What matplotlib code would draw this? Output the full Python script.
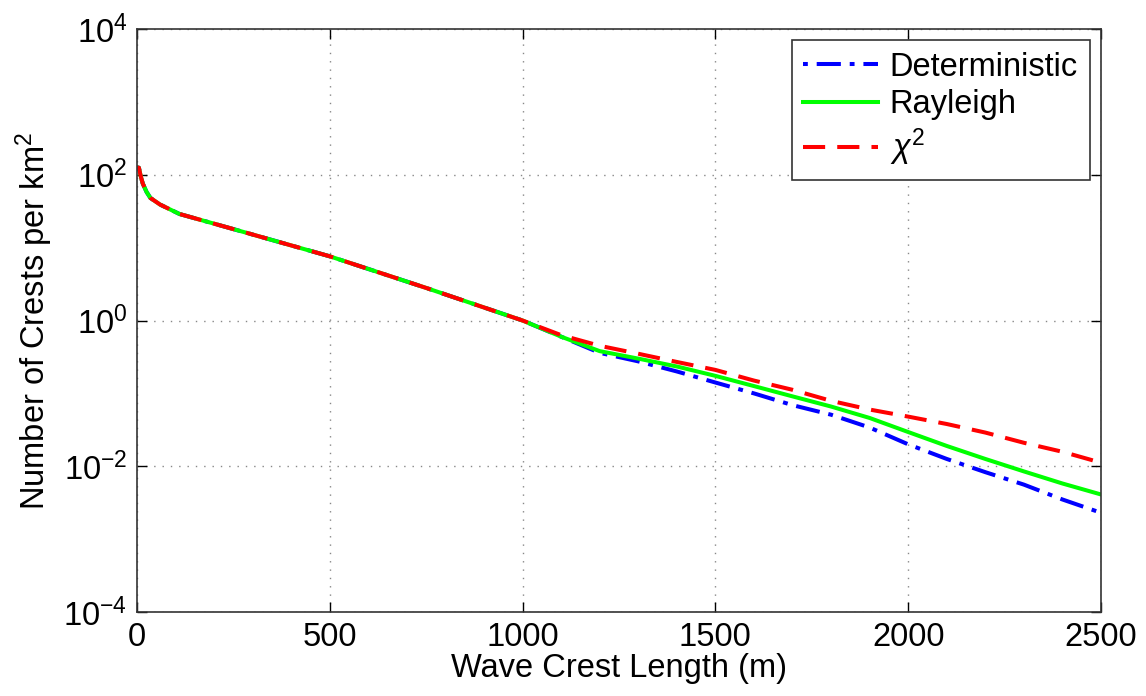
import matplotlib as mpl
mpl.use('Agg')
import matplotlib.pyplot as plt
import numpy as np

# common part of the three curves (m, crests per km^2)
x_common = [0, 5, 10, 15, 25, 35, 60, 110, 240, 500, 750, 1000]
y_common = [126, 125, 95, 76, 58, 48, 39, 29, 18.6, 7.6, 2.8, 1.0]

# tails where the curves split up
x_tail = [1100, 1200, 1300, 1400, 1500, 1600, 1700, 1800, 1900, 2000,
          2100, 2200, 2300, 2400, 2500]
det_tail = [0.60, 0.36, 0.275, 0.20, 0.141, 0.10, 0.069, 0.051, 0.034, 0.020,
            0.0126, 0.0083, 0.0056, 0.0035, 0.0023]
ray_tail = [0.60, 0.38, 0.30, 0.234, 0.174, 0.126, 0.091, 0.066, 0.046, 0.0295,
            0.019, 0.0126, 0.0085, 0.0058, 0.0041]
chi_tail = [0.63, 0.45, 0.35, 0.27, 0.21, 0.15, 0.112, 0.079, 0.060, 0.048,
            0.038, 0.029, 0.021, 0.0158, 0.0112]

labels = ['Deterministic', 'Rayleigh', r'$\chi^2$']
xticks = [0, 500, 1000, 1500, 2000, 2500]
yticks = [1e-4, 1e-2, 1e0, 1e2, 1e4]

plt.rcParams['font.family'] = ['Liberation Sans', 'DejaVu Sans']
plt.rcParams['mathtext.fontset'] = 'custom'
plt.rcParams['mathtext.rm'] = 'Liberation Sans'
plt.rcParams['mathtext.it'] = 'Liberation Sans:italic'

fs = 23.5

fig = plt.figure(figsize=(11.46, 6.96), dpi=100)
ax = fig.add_axes([0.1195, 0.1207, 0.8412, 0.8376])

x = np.array(x_common + x_tail)
ax.plot(x, y_common + det_tail, color='#0000ff', lw=2.9,
        dashes=(1.2, 2.2, 6, 2.2), label=labels[0])
ax.plot(x, y_common + ray_tail, color='#00ff00', lw=2.9, label=labels[1])
ax.plot(x, y_common + chi_tail, color='#ff0000', lw=2.9,
        dashes=(5.5, 3), label=labels[2])

ax.set_yscale('log')
ax.set_xlim(0, 2500)
ax.set_ylim(1e-4, 1e4)
ax.set_xticks(xticks)
ax.set_yticks(yticks)
ax.yaxis.set_minor_locator(mpl.ticker.NullLocator())
ax.tick_params(direction='in', top=True, right=True, length=7, width=1,
               labelsize=fs, pad=7)
ax.grid(True, color='#888888', linestyle=(0, (1, 5)), lw=1)
for s in ax.spines.values():
    s.set_linewidth(1.2)
    s.set_color('#333333')

ax.set_xlabel('Wave Crest Length (m)', fontsize=fs, labelpad=0)
ax.set_ylabel('Number of Crests per km$^2$', fontsize=fs, labelpad=6)

leg = ax.legend(loc='upper right', fontsize=fs, fancybox=False, framealpha=1,
                edgecolor='#333333', handlelength=2.3, borderaxespad=0.35,
                labelspacing=0.2, handletextpad=0.35, borderpad=0.35)
leg.get_frame().set_linewidth(1.2)

fig.savefig('out.png', dpi=100)
